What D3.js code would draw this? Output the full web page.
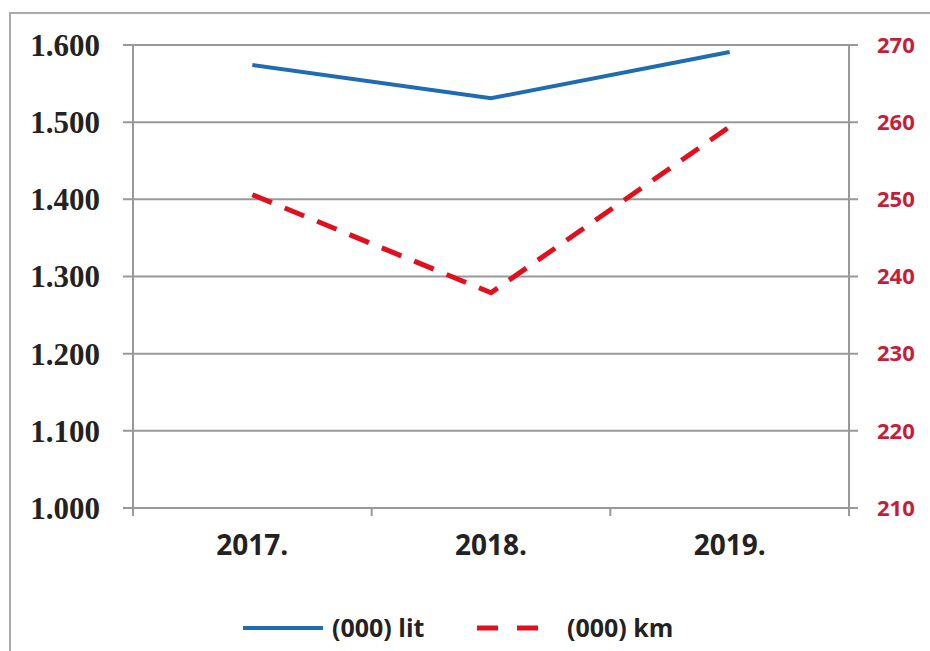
<!DOCTYPE html>
<html>
<head>
<meta charset="utf-8">
<script src="https://cdn.jsdelivr.net/npm/d3@7"></script>
<style>
  body { margin: 0; background: #fff; }
</style>
</head>
<body>
<div id="chart"></div>
<script>
const years = ["2017.", "2018.", "2019."];
const litValues = [1574, 1531, 1591];
const kmValues = [250.6, 237.9, 259.4];
const leftTicks = [1000, 1100, 1200, 1300, 1400, 1500, 1600];
const rightTicks = [210, 220, 230, 240, 250, 260, 270];
const legendLabels = ["(000) lit", "(000) km"];

function main(){
    let width = 930;
    let height = 651;
    let left = 133, right = 849, top = 45, bottom = 508;

    let svg = d3.select("#chart").append("svg")
        .attr("width", width)
        .attr("height", height);

    // outer frame
    svg.append("path")
        .attr("d", "M10," + height + "V13H" + width)
        .attr("fill", "none")
        .attr("stroke", "#aaa")
        .attr("stroke-width", 2);

    let x = d3.scaleBand().domain(years).range([left, right]).padding(0);
    let yL = d3.scaleLinear().domain([1000, 1600]).range([bottom, top]);
    let yR = d3.scaleLinear().domain([210, 270]).range([bottom, top]);

    let fmt = d3.formatLocale({decimal: ",", thousands: ".", grouping: [3], currency: ["", ""]}).format(",");

    // gridlines (with tick extensions on both sides)
    svg.append("g").selectAll("line")
        .data(leftTicks)
        .enter()
        .append("line")
        .attr("x1", left - 10)
        .attr("x2", right + 9)
        .attr("y1", d => yL(d))
        .attr("y2", d => yL(d))
        .attr("stroke", "#999")
        .attr("stroke-width", 2);

    // vertical axis lines
    svg.append("line")
        .attr("x1", left).attr("x2", left)
        .attr("y1", top).attr("y2", bottom + 8)
        .attr("stroke", "#999").attr("stroke-width", 2);
    svg.append("line")
        .attr("x1", right).attr("x2", right)
        .attr("y1", top).attr("y2", bottom + 8)
        .attr("stroke", "#999").attr("stroke-width", 2);

    // x ticks at category boundaries
    let bounds = years.map(d => x(d)).slice(1);
    svg.append("g").selectAll("line")
        .data(bounds)
        .enter()
        .append("line")
        .attr("x1", d => d).attr("x2", d => d)
        .attr("y1", bottom).attr("y2", bottom + 8)
        .attr("stroke", "#999").attr("stroke-width", 2);

    // left labels
    svg.append("g").selectAll("text")
        .data(leftTicks)
        .enter()
        .append("text")
        .attr("x", 100)
        .attr("y", d => yL(d))
        .attr("dy", "0.35em")
        .attr("text-anchor", "end")
        .attr("font-family", "'Liberation Serif', serif")
        .attr("font-weight", "bold")
        .attr("font-size", 31)
        .attr("fill", "#222")
        .text(d => fmt(d));

    // right labels
    svg.append("g").selectAll("text")
        .data(rightTicks)
        .enter()
        .append("text")
        .attr("x", 877)
        .attr("y", d => yR(d))
        .attr("dy", "0.35em")
        .attr("font-family", "'Open Sans', sans-serif")
        .attr("font-weight", "bold")
        .attr("font-size", 22)
        .attr("fill", "#c41e3a")
        .text(d => d);

    // x labels
    svg.append("g").selectAll("text")
        .data(years)
        .enter()
        .append("text")
        .attr("x", d => x(d) + x.bandwidth() / 2)
        .attr("y", 555)
        .attr("text-anchor", "middle")
        .attr("font-family", "'Open Sans', sans-serif")
        .attr("font-weight", "bold")
        .attr("font-size", 28)
        .attr("fill", "#222")
        .text(d => d);

    let cx = d => x(d) + x.bandwidth() / 2;

    let litLine = d3.line()
        .x((d, i) => cx(years[i]))
        .y(d => yL(d));
    let kmLine = d3.line()
        .x((d, i) => cx(years[i]))
        .y(d => yR(d));

    svg.append("path")
        .datum(litValues)
        .attr("d", litLine)
        .attr("fill", "none")
        .attr("stroke", "#1f6cb0")
        .attr("stroke-width", 4);

    svg.append("path")
        .datum(kmValues)
        .attr("d", kmLine)
        .attr("fill", "none")
        .attr("stroke", "#e0101e")
        .attr("stroke-width", 5)
        .attr("stroke-dasharray", "21,14");

    // legend
    let legend = svg.append("g")
        .attr("font-family", "'Open Sans', sans-serif")
        .attr("font-weight", "bold")
        .attr("font-size", 25)
        .attr("fill", "#222");

    legend.append("line")
        .attr("x1", 243).attr("x2", 323)
        .attr("y1", 628).attr("y2", 628)
        .attr("stroke", "#1f6cb0").attr("stroke-width", 4);
    legend.append("text")
        .attr("x", 332).attr("y", 628).attr("dy", "0.35em")
        .text(legendLabels[0]);

    legend.append("line")
        .attr("x1", 477).attr("x2", 538)
        .attr("y1", 628).attr("y2", 628)
        .attr("stroke", "#e0101e").attr("stroke-width", 5)
        .attr("stroke-dasharray", "21,19");
    legend.append("text")
        .attr("x", 567).attr("y", 628).attr("dy", "0.35em")
        .text(legendLabels[1]);
}

main();
</script>
</body>
</html>
